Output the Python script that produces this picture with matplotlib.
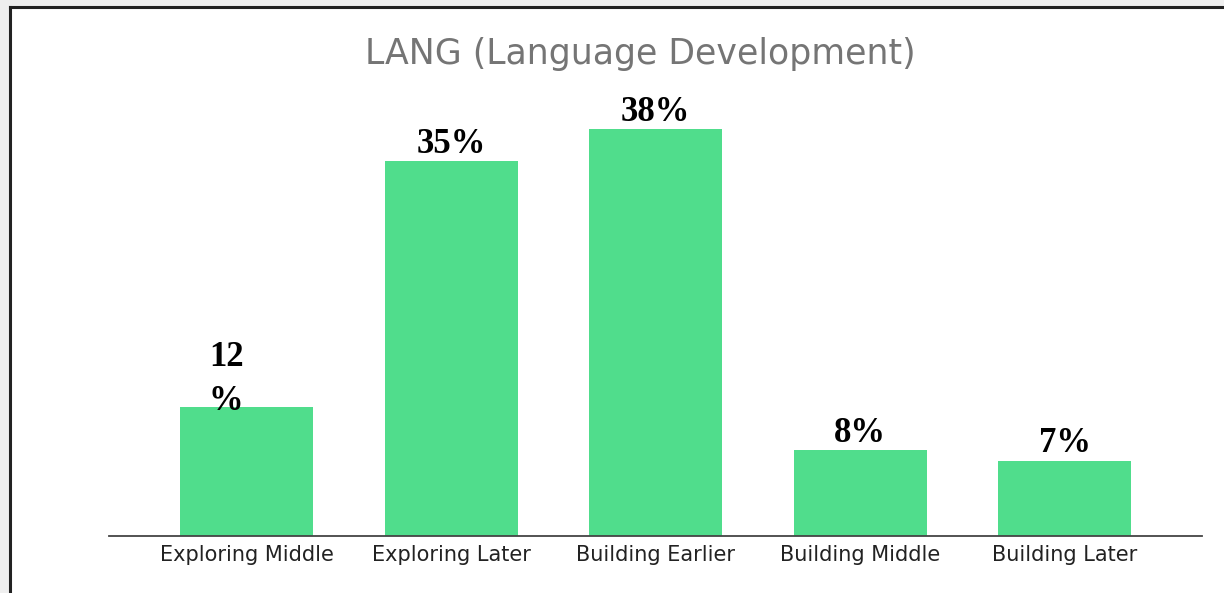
import matplotlib
matplotlib.use("Agg")
import matplotlib.pyplot as plt
from matplotlib.lines import Line2D
from matplotlib.patches import Rectangle

categories = ["Exploring Middle", "Exploring Later", "Building Earlier",
              "Building Middle", "Building Later"]
values = [12, 35, 38, 8, 7]
value_labels = ["12\n%", "35%", "38%", "8%", "7%"]

W, H = 1224, 593
fig = plt.figure(figsize=(W / 100, H / 100), dpi=100, facecolor="#efefef")

# white panel with dark top/left border
fig.patches.append(Rectangle((10 / W, 0), 1 - 10 / W, 1 - 7 / H,
                             transform=fig.transFigure, facecolor="white",
                             edgecolor="none", zorder=-5))
fig.lines.append(Line2D([10 / W, 1], [1 - 7 / H, 1 - 7 / H], transform=fig.transFigure,
                        color="#222222", linewidth=2.2, zorder=-4))
fig.lines.append(Line2D([10 / W, 10 / W], [0, 1 - 7 / H], transform=fig.transFigure,
                        color="#222222", linewidth=2.2, zorder=-4))

ax = fig.add_axes([109 / W, 1 - 535.5 / H, (1202 - 109) / W, 428 / H])
ax.set_facecolor("none")

x = range(len(categories))
ax.bar(x, values, width=0.65, color="#50DD8C", zorder=2)

ax.set_xlim(-0.672, len(categories) - 1 + 0.67)
ax.set_ylim(0, 40)
ax.set_xticks(list(x))
ax.set_xticklabels(categories, fontsize=15, family="DejaVu Sans", color="#222222")
ax.tick_params(axis="x", length=0, pad=7)
ax.set_yticks([])
for s in ["top", "left", "right"]:
    ax.spines[s].set_visible(False)
ax.spines["bottom"].set_color("#444444")
ax.spines["bottom"].set_linewidth(1.3)

for i, (v, lab) in enumerate(zip(values, value_labels)):
    if "\n" in lab:
        # the reference wraps this label onto two lines
        ax.annotate(lab, (i, v), xytext=(-27, -2), textcoords="offset points",
                    ha="left", va="baseline", fontsize=25, family="Liberation Serif",
                    fontweight="bold", linespacing=1.45)
    else:
        ax.annotate(lab, (i, v), xytext=(0, 6), textcoords="offset points",
                    ha="center", va="baseline", fontsize=25, family="Liberation Serif",
                    fontweight="bold")

fig.text(640 / W, 1 - 64 / H, "LANG (Language Development)", ha="center", va="baseline",
         fontsize=25, family="DejaVu Sans", color="#757575")

fig.savefig("out.png", dpi=100, facecolor=fig.get_facecolor())
